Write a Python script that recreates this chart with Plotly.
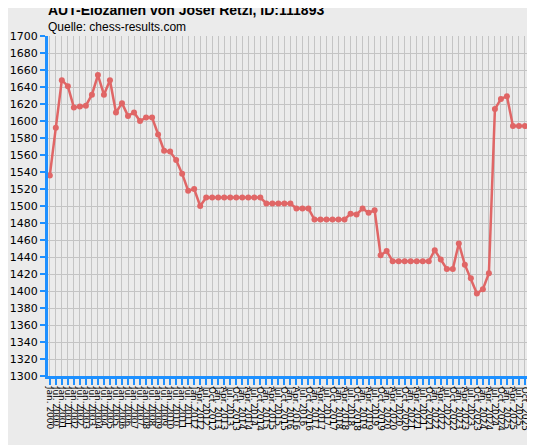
import plotly.graph_objects as go

elo = [1536,1592,1648,1641,1616,1617,1618,1631,1654,1631,1648,1610,1621,1606,1610,1600,1604,1604,1584,1565,1564,1554,1538,1518,1520,1500,1510,
       1510,1510,1510,1510,1510,1510,1510,1510,1510,
       1503,1503,1503,1503,1503,
       1497,1497,1497,
       1484,1484,1484,1484,1484,1484,
       1491,1490,1497,1492,1495,
       1442,1447,1435,1435,
       1435,1435,1435,1435,1435,
       1448,1437,1426,1426,1456,1431,1415,1397,1402,1421,1614,1626,1629,1594,1594,1594]

labels = []
for y in range(2000, 2012):
    labels += [f"Jan. {y}", f"Jul. {y}"]
labels.append("Jan. 2012")
for y in range(2012, 2026):
    for m in ["Jan.", "Apr.", "Jul.", "Oct."]:
        if y == 2012 and m == "Jan.":
            continue
        labels.append(f"{m} {y}")
labels = labels[:len(elo)]
x = list(range(len(elo)))

fig = go.Figure(go.Scatter(
    x=x, y=elo, mode="lines+markers",
    line=dict(color="#e06666", width=2.5),
    marker=dict(color="#e06666", size=6),
))
fig.update_layout(
    width=527, height=437,
    margin=dict(l=40, r=7, t=28, b=69),
    paper_bgcolor="#ebebeb", plot_bgcolor="#ebebeb",
    showlegend=False,
    font=dict(family="DejaVu Sans", size=11, color="black"),
    annotations=[
        dict(text="<b>AUT-Elozahlen von Josef Retzl, ID:111893</b>", x=-0.005, xref="paper", xanchor="left",
             y=1.076, yref="paper", yanchor="middle", showarrow=False, font=dict(size=14, family="Liberation Sans")),
        dict(text="Quelle: chess-results.com", x=-0.005, xref="paper", xanchor="left",
             y=1.026, yref="paper", yanchor="middle", showarrow=False, font=dict(size=12, family="Liberation Sans")),
    ],
)
fig.update_xaxes(
    range=[-0.3, len(elo) - 0.5], tickmode="array", tickvals=x, ticktext=labels,
    tickangle=90, tickfont=dict(size=9), showgrid=True, gridcolor="#c4c4c4", gridwidth=1,
    showline=True, linecolor="#1e90ff", linewidth=3, ticks="outside", tickcolor="#1e90ff",
    ticklen=6, tickwidth=2, zeroline=False, automargin=False,
)
fig.update_yaxes(
    range=[1300, 1700], dtick=20, showgrid=True, gridcolor="#c4c4c4", gridwidth=1,
    showline=True, linecolor="#1e90ff", linewidth=3, ticks="outside", tickcolor="#1e90ff",
    ticklen=5, tickwidth=2, zeroline=False, tickfont=dict(size=11), automargin=False,
)
fig.write_html("out.html")
